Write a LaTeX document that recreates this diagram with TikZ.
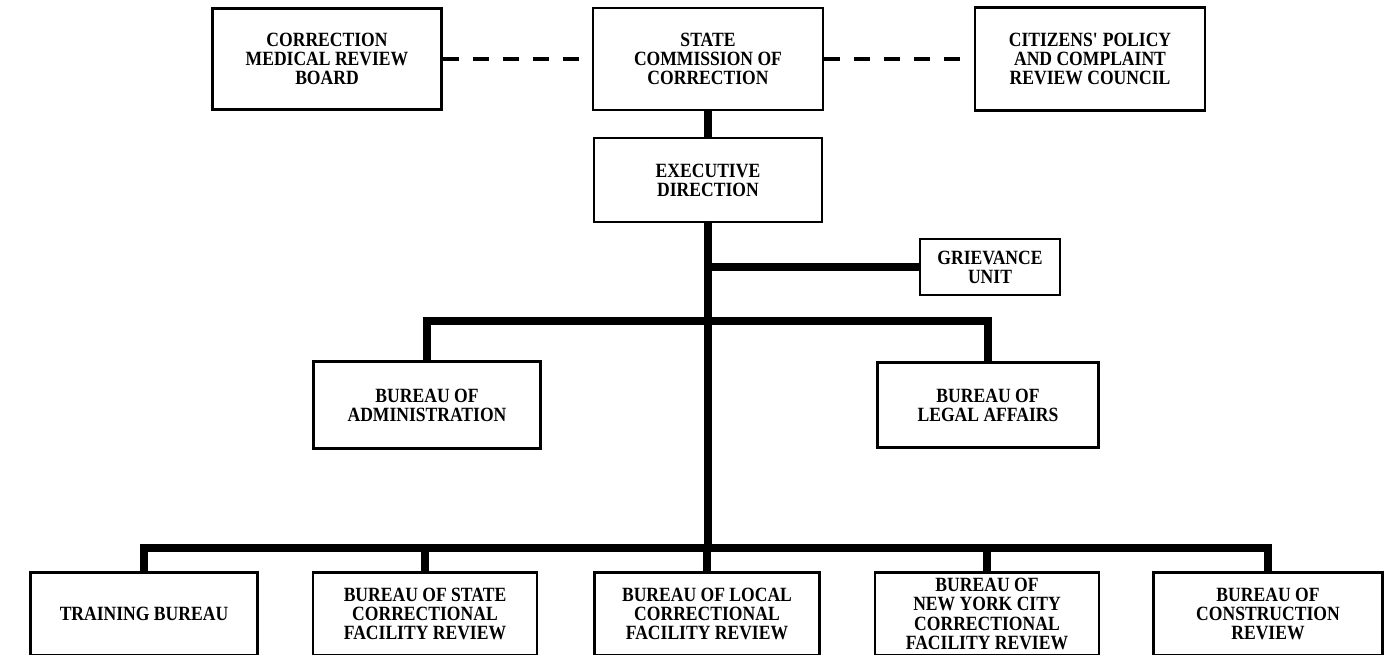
\documentclass[tikz,border=0pt]{standalone}
\usepackage{fontspec}
\setmainfont{Liberation Serif}[FakeStretch=0.87]
\usepackage{tikz}

\begin{document}
\begin{tikzpicture}[x=0.02cm, y=-0.02cm,
    box/.style={rectangle, draw, line width=1.4pt, inner sep=0pt, align=center,
        font=\fontsize{11.5}{10.9}\selectfont\bfseries},
    trunk/.style={line width=4.8pt},
    link/.style={line width=2.3pt, dash pattern=on 0.32cm off 0.28cm}]
            \useasboundingbox (0,0) rectangle (1387,654);
            \clip (0,0) rectangle (1387,654);

            % Nodes
            \node[box, minimum width=4.58cm, minimum height=2.02cm] (cmrb) at (327,59) {CORRECTION\\MEDICAL REVIEW\\BOARD};
            \node[box, minimum width=4.6cm, minimum height=2.04cm] (scc) at (708,59) {STATE\\COMMISSION OF\\CORRECTION};
            \node[box, minimum width=4.6cm, minimum height=2.06cm] (cpcrc) at (1090,59) {CITIZENS\textquotesingle{} POLICY\\AND COMPLAINT\\REVIEW COUNCIL};
            \node[box, minimum width=4.56cm, minimum height=1.68cm] (exec) at (708,180) {EXECUTIVE\\DIRECTION};
            \node[box, minimum width=2.8cm, minimum height=1.12cm] (griev) at (990,267) {GRIEVANCE\\UNIT};
            \node[box, minimum width=4.54cm, minimum height=1.74cm] (admin) at (427,405) {BUREAU OF\\ADMINISTRATION};
            \node[box, minimum width=4.42cm, minimum height=1.7cm] (legal) at (988,405) {BUREAU OF\\LEGAL AFFAIRS};
            \node[box, minimum width=4.54cm, minimum height=1.66cm] (train) at (144,614) {TRAINING BUREAU};
            \node[box, minimum width=4.48cm, minimum height=1.66cm] (state) at (425,614) {BUREAU OF STATE\\CORRECTIONAL\\FACILITY REVIEW};
            \node[box, minimum width=4.5cm, minimum height=1.66cm] (local) at (707,614) {BUREAU OF LOCAL\\CORRECTIONAL\\FACILITY REVIEW};
            \node[box, minimum width=4.48cm, minimum height=1.66cm] (nyc) at (987,614) {BUREAU OF\\NEW YORK CITY\\CORRECTIONAL\\FACILITY REVIEW};
            \node[box, minimum width=4.58cm, minimum height=1.66cm] (constr) at (1268,614) {BUREAU OF\\CONSTRUCTION\\REVIEW};

            % Bus levels
            \coordinate (midbus) at (708,321);
            \coordinate (botbus) at (708,548);

            % Edges
            \draw[link] (cmrb) -- (scc);
            \draw[link] (scc) -- (cpcrc);
            \draw[trunk] (scc) -- (exec);
            \draw[trunk] (exec.south) -- (botbus);
            \draw[trunk] (exec.south |- griev) -- (griev.west);
            \draw[trunk] (admin.north) -- (admin.north |- midbus) -- (legal.north |- midbus) -- (legal.north);
            \draw[trunk] (train.north) -- (train.north |- botbus) -- (constr.north |- botbus) -- (constr.north);
            \foreach \n in {state,local,nyc}
                \draw[trunk] (\n.north) -- (\n.north |- botbus);
        \end{tikzpicture}
\end{document}
